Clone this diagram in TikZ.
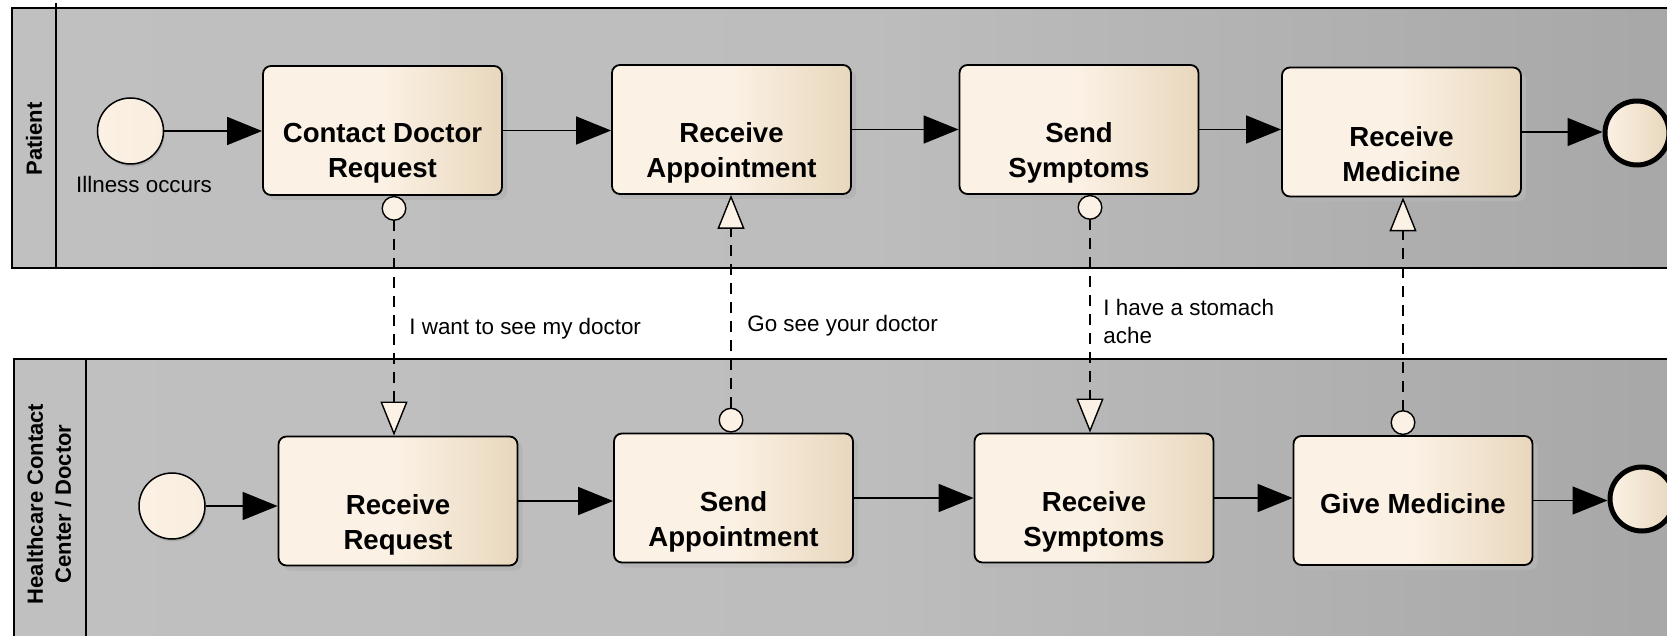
\documentclass[tikz,border=0pt]{standalone}
\usepackage{fontspec}
\setmainfont{Liberation Sans}
\usetikzlibrary{arrows.meta,shadows}
\definecolor{creamL}{HTML}{FBF1E4}
\definecolor{creamR}{HTML}{E8D7BD}
\definecolor{laneL}{HTML}{C0C0C0}
\definecolor{laneM}{HTML}{BDBDBD}
\definecolor{laneR}{HTML}{A6A6A6}
\definecolor{shadowgray}{HTML}{B4B4B4}
\begin{document}
\begin{tikzpicture}[x=0.5pt,y=-0.5pt,
  lanebox/.style={draw=black, line width=0.9pt},
  lanefill/.style={left color=laneL, right color=laneR, middle color=laneM},
  lanelabel/.style={font=\fontsize{11pt}{14pt}\selectfont\bfseries, align=center, inner sep=0pt, rotate=90},
  task/.style={rectangle, rounded corners=4pt, draw=black, line width=0.9pt,
    minimum width=119.5pt, minimum height=64.5pt, inner sep=0pt,
    left color=creamL, right color=creamR, middle color=creamL,
    drop shadow={shadow xshift=2.5pt, shadow yshift=-2.5pt, fill=shadowgray, opacity=1}},
  tasktext/.style={font=\fontsize{13.8pt}{17.5pt}\selectfont\bfseries, align=center, inner sep=0pt},
  startev/.style={circle, draw=black, line width=0.75pt, minimum size=33pt, inner sep=0pt,
    left color=creamL, right color=creamL!85!creamR,
    drop shadow={shadow xshift=0.6pt, shadow yshift=-1.2pt, fill=black!40, opacity=0.6}},
  endev/.style={circle, draw=black, line width=2.5pt, minimum size=32pt, inner sep=0pt,
    left color=creamL, right color=creamR},
  seq/.style={line width=0.75pt, -{Triangle[length=17.5pt, width=14pt]}},
  msg/.style={line width=0.7pt, dash pattern=on 5.5pt off 4pt,
    {Circle[length=12.5pt, width=12.5pt, fill=creamL]}-{Triangle[length=17pt, width=13.5pt, fill=creamL]}},
  msgtext/.style={font=\fontsize{11.2pt}{14pt}\selectfont, inner sep=0pt}
]
\useasboundingbox (0,0) rectangle (1667,636);
\clip (0,0) rectangle (1667,636);
\fill[white] (0,0) rectangle (1667,636);

% Patient lane
\shade[lanefill] (12,8) rectangle (1720,268);
\draw[lanebox] (12,8) rectangle (1720,268);
\draw[lanebox] (56,3) -- (56,268);
\node[lanelabel] (lp) at (34,139) {Patient};

% Healthcare lane
\shade[lanefill] (14,359) rectangle (1720,680);
\draw[lanebox] (14,359) rectangle (1720,680);
\draw[lanebox] (86,359) -- (86,680);
\node[lanelabel] (lh) at (49,504) {Healthcare Contact\\Center / Doctor};

% Patient process
\node[startev] (s1) at (130.5,131) {};
\node[msgtext] (ill) at (144,184) {Illness occurs};
\node[task, label={[tasktext,yshift=-11.5pt]center:{Contact Doctor\\Request}}] (cdr) at (382.5,130.5) {};
\node[task, label={[tasktext,yshift=-11.5pt]center:{Receive\\Appointment}}] (ra) at (731.5,129.5) {};
\node[task, label={[tasktext,yshift=-11.5pt]center:{Send\\Symptoms}}] (ss) at (1079,129.5) {};
\node[task, label={[tasktext,yshift=-11pt]center:{Receive\\Medicine}}] (rm) at (1401.5,132) {};
\node[endev] (e1) at (1637,133) {};

% Healthcare process
\node[startev] (s2) at (172,506) {};
\node[task, label={[tasktext,yshift=-12pt]center:{Receive\\Request}}] (rr) at (398,501) {};
\node[task, label={[tasktext,yshift=-12pt]center:{Send\\Appointment}}] (sa) at (733.5,498) {};
\node[task, label={[tasktext,yshift=-12pt]center:{Receive\\Symptoms}}] (rs) at (1094,498) {};
\node[task, label={[tasktext,yshift=-1.5pt]center:{Give Medicine}}] (gm) at (1413,500.5) {};
\node[endev] (e2) at (1642,499) {};

% Sequence flows
\draw[seq] (s1.east) -- (s1.east -| cdr.west);
\draw[seq] (cdr.east) -- (cdr.east -| ra.west);
\draw[seq] (ra.east) -- (ra.east -| ss.west);
\draw[seq] (ss.east) -- (ss.east -| rm.west);
\draw[seq] (rm.east) -- (rm.east -| e1.west);
\draw[seq] (s2.east) -- (s2.east -| rr.west);
\draw[seq] (rr.east) -- (rr.east -| sa.west);
\draw[seq] (sa.east) -- (sa.east -| rs.west);
\draw[seq] (rs.east) -- (rs.east -| gm.west);
\draw[seq] (gm.east) -- (gm.east -| e2.west);

% Message flows
\coordinate (m1) at (394,0);
\coordinate (m2) at (731,0);
\coordinate (m3) at (1090,0);
\coordinate (m4) at (1403,0);
\draw[msg] (cdr.south -| m1) -- (rr.north -| m1);
\draw[msg] (sa.north -| m2) -- (ra.south -| m2);
\draw[msg] (ss.south -| m3) -- (rs.north -| m3);
\draw[msg] (gm.north -| m4) -- (rm.south -| m4);

\node[msgtext, anchor=west] (t1) at (409,329) {I want to see my doctor};
\node[msgtext, anchor=west] (t2) at (747,326) {Go see your doctor};
\node[msgtext, anchor=west, align=left] (t3) at (1103,321) {I have a stomach\\ache};
\end{tikzpicture}
\end{document}
